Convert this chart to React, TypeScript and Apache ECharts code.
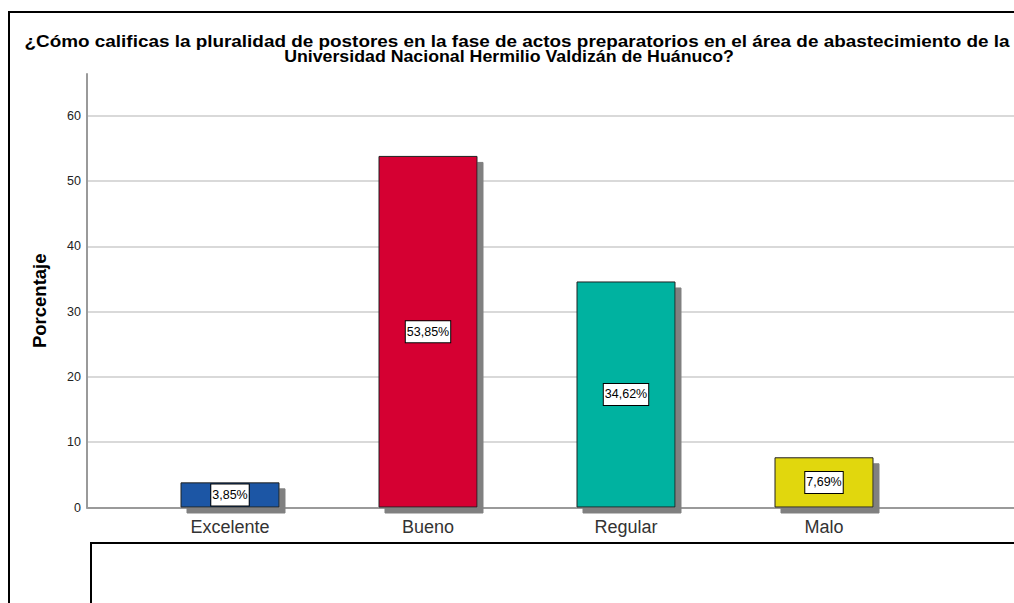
import React, { useEffect, useRef } from "react";
import * as echarts from "echarts";

const categories = ["Excelente", "Bueno", "Regular", "Malo"];
const percentages = [3.85, 53.85, 34.62, 7.69];
const barColors = ["#1B56A5", "#D50032", "#00B2A0", "#E1D70E"];
const yTicks = { min: 0, max: 66.4, interval: 10 };
const titleLines = [
  "¿Cómo calificas la pluralidad de postores en la fase de actos preparatorios en el área de abastecimiento de la",
  "Universidad Nacional Hermilio Valdizán de Huánuco?",
];
const yAxisName = "Porcentaje";

export default function App() {
  const ref = useRef<HTMLDivElement>(null);
  useEffect(() => {
    if (!ref.current) return;
    const chart = echarts.init(ref.current, undefined, { renderer: "svg" });
    const font = "Arial, 'Liberation Sans', sans-serif";
    const top = 74;
    const height = 433.5;
    const titleLayout = [
      { x: 517, y: 41, sx: 1.16 },
      { x: 509, y: 56.5, sx: 1.09 },
    ];
    chart.setOption({
      animation: false,
      backgroundColor: "#ffffff",
      textStyle: { fontFamily: font },
      graphic: [
        {
          type: "rect",
          shape: { x: 9, y: 12, width: 1100, height: 700 },
          style: { fill: "none", stroke: "#000", lineWidth: 2 },
          silent: true,
        },
        {
          type: "rect",
          shape: { x: 91, y: 543, width: 1000, height: 200 },
          style: { fill: "none", stroke: "#000", lineWidth: 2 },
          silent: true,
        },
        ...titleLines.map((t, i) => ({
          type: "text",
          x: titleLayout[i].x,
          y: titleLayout[i].y,
          scaleX: titleLayout[i].sx,
          silent: true,
          style: {
            text: t,
            font: `bold 16.3px ${font}`,
            fill: "#000",
            textAlign: "center",
            textVerticalAlign: "middle",
          },
        })),
      ],
      grid: [
        { left: 87, top, right: 0, height, containLabel: false },
        { left: 131, top, width: 792, height, containLabel: false },
      ],
      xAxis: [
        {
          type: "value",
          gridIndex: 0,
          axisLine: { show: true, onZero: false, lineStyle: { color: "#9a9a9a", width: 2 } },
          axisTick: { show: false },
          axisLabel: { show: false },
          splitLine: { show: false },
        },
        {
          type: "category",
          gridIndex: 1,
          data: categories,
          axisLine: { show: false },
          axisTick: { show: false },
          axisLabel: {
            fontFamily: font,
            fontSize: 18,
            color: "#333",
            margin: 10,
          },
        },
      ],
      yAxis: [
        {
          type: "value",
          gridIndex: 0,
          min: yTicks.min,
          max: yTicks.max,
          interval: yTicks.interval,
          name: yAxisName,
          nameLocation: "middle",
          nameRotate: 90,
          nameGap: 38,
          nameTextStyle: {
            fontFamily: font,
            fontSize: 18.5,
            fontWeight: "bold",
            color: "#000",
            padding: [0, 20, 0, 0],
          },
          axisLine: { show: true, lineStyle: { color: "#9a9a9a", width: 2 } },
          axisTick: { show: false },
          axisLabel: {
            fontFamily: font,
            fontSize: 12.5,
            color: "#222",
            margin: 6,
            showMaxLabel: false,
            formatter: (v: number) => (v % 10 === 0 ? String(v) : ""),
          },
          splitLine: {
            show: true,
            showMinLine: false,
            showMaxLine: false,
            lineStyle: { color: "#cccccc", width: 1.5 },
          },
        },
        {
          type: "value",
          gridIndex: 1,
          min: yTicks.min,
          max: yTicks.max,
          show: false,
          splitLine: { show: false },
        },
      ],
      series: [
        {
          type: "bar",
          xAxisIndex: 1,
          yAxisIndex: 1,
          barWidth: 99,
          data: percentages.map((v, i) => ({
            value: v,
            itemStyle: { color: barColors[i] },
          })),
          itemStyle: {
            borderColor: "#222",
            borderWidth: 1,
            shadowColor: "#808080",
            shadowBlur: 0,
            shadowOffsetX: 6,
            shadowOffsetY: 6,
          },
          label: {
            show: true,
            position: "inside",
            formatter: (p: any) => p.value.toFixed(2).replace(".", ",") + "%",
            fontFamily: font,
            fontSize: 12.5,
            lineHeight: 15,
            color: "#000",
            backgroundColor: "#fff",
            borderColor: "#000",
            borderWidth: 1,
            padding: [3, 1, 3, 1],
          },
        },
      ],
    });
    return () => chart.dispose();
  }, []);
  return (
    <div
      ref={ref}
      style={{ position: "fixed", left: 0, top: 0, width: 1014, height: 603 }}
    />
  );
}
